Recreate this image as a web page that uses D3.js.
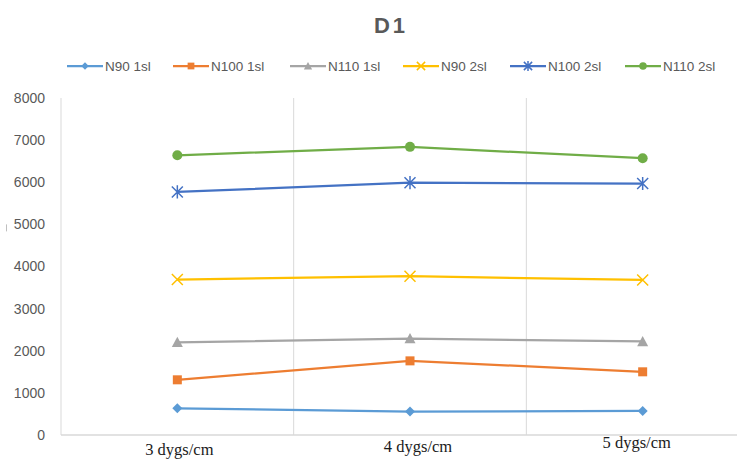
<!DOCTYPE html>
<html>
<head>
<meta charset="utf-8">
<script src="https://cdn.jsdelivr.net/npm/d3@7"></script>
<style>
  html, body { margin: 0; padding: 0; background: #fff; }
  svg { display: block; }
</style>
</head>
<body>
<svg id="chart" width="737" height="459"></svg>
<script>
// Categories along the x axis
const categories = ["3 dygs/cm", "4 dygs/cm", "5 dygs/cm"];

// Series values, one per category
const n90_1sl  = [635, 555, 570];
const n100_1sl = [1310, 1760, 1500];
const n110_1sl = [2200, 2290, 2220];
const n90_2sl  = [3690, 3770, 3680];
const n100_2sl = [5770, 5990, 5970];
const n110_2sl = [6640, 6840, 6570];

const seriesNames = ["N90 1sl", "N100 1sl", "N110 1sl", "N90 2sl", "N100 2sl", "N110 2sl"];
const seriesValues = [n90_1sl, n100_1sl, n110_1sl, n90_2sl, n100_2sl, n110_2sl];
const seriesColors = ["#5b9bd5", "#ed7d31", "#a5a5a5", "#ffc000", "#4472c4", "#70ad47"];
const seriesMarkers = ["diamond", "square", "triangle", "x", "asterisk", "circle"];

// Y axis ticks
const yTicks = [0, 1000, 2000, 3000, 4000, 5000, 6000, 7000, 8000];

const svg = d3.select("#chart");
const W = 737, H = 459;
const plot = { left: 61, right: 759, top: 98, bottom: 435 };

const x = d3.scalePoint().domain(categories).range([plot.left, plot.right]).padding(0.5);
const xBand = d3.scaleBand().domain(categories).range([plot.left, plot.right]);
const y = d3.scaleLinear().domain([0, 8000]).range([plot.bottom, plot.top]);

const gridColor = "#d9d9d9";
const textColor = "#595959";

// Title
svg.append("text")
  .attr("x", 391).attr("y", 33)
  .attr("text-anchor", "middle")
  .attr("font-family", "Liberation Sans, Arial, sans-serif")
  .attr("font-size", 22).attr("font-weight", "bold")
  .attr("letter-spacing", 3)
  .attr("fill", textColor)
  .text("D1");

// Vertical category dividers
svg.append("g").selectAll("line")
  .data(categories.slice(1))
  .join("line")
  .attr("x1", d => xBand(d)).attr("x2", d => xBand(d))
  .attr("y1", plot.top).attr("y2", plot.bottom)
  .attr("stroke", gridColor).attr("stroke-width", 1);

// Left axis line
svg.append("line")
  .attr("x1", plot.left).attr("x2", plot.left)
  .attr("y1", plot.top).attr("y2", plot.bottom)
  .attr("stroke", gridColor).attr("stroke-width", 1);

// Bottom axis line
svg.append("line")
  .attr("x1", plot.left).attr("x2", W)
  .attr("y1", plot.bottom).attr("y2", plot.bottom)
  .attr("stroke", gridColor).attr("stroke-width", 1.5);

// Y axis labels
const yAxis = d3.axisLeft(y).tickValues(yTicks).tickSize(0).tickPadding(0).tickFormat(d3.format("d"));
const yg = svg.append("g").attr("transform", `translate(${plot.left - 16},0)`).call(yAxis);
yg.select(".domain").remove();
yg.selectAll("text")
  .attr("font-family", "Liberation Sans, Arial, sans-serif")
  .attr("font-size", 14)
  .attr("fill", textColor);

// Empty axis title stub
svg.append("line")
  .attr("x1", 6.5).attr("x2", 6.5)
  .attr("y1", y(5000) + 0).attr("y2", y(5000) + 7)
  .attr("stroke", "#bfbfbf").attr("stroke-width", 1);

// X axis labels
const xLabelOffsets = [20, 17, 13];
const xLabelShift = [2, 8, -6];
svg.append("g").selectAll("text")
  .data(categories)
  .join("text")
  .attr("x", (d, i) => x(d) + xLabelShift[i])
  .attr("y", (d, i) => plot.bottom + xLabelOffsets[i])
  .attr("text-anchor", "middle")
  .attr("font-family", "Liberation Serif, Times New Roman, serif")
  .attr("font-size", 16.5)
  .attr("fill", "#1a1a1a")
  .text(d => d);

// Marker drawing
function drawMarker(g, type, color, size) {
  const s = size;
  switch (type) {
    case "diamond":
      g.append("path").attr("d", `M0,${-s}L${s},0L0,${s}L${-s},0Z`).attr("fill", color);
      break;
    case "square":
      g.append("rect").attr("x", -s * 0.9).attr("y", -s * 0.9).attr("width", s * 1.8).attr("height", s * 1.8).attr("fill", color);
      break;
    case "triangle":
      g.append("path").attr("d", `M0,${-s}L${s},${s * 0.85}L${-s},${s * 0.85}Z`).attr("fill", color);
      break;
    case "x":
      g.append("path").attr("d", `M${-s},${-s}L${s},${s}M${-s},${s}L${s},${-s}`)
        .attr("stroke", color).attr("stroke-width", 1.5).attr("fill", "none");
      break;
    case "asterisk":
      g.append("path").attr("d", `M${-s},${-s}L${s},${s}M${-s},${s}L${s},${-s}M0,${-s * 1.2}L0,${s * 1.2}`)
        .attr("stroke", color).attr("stroke-width", 1.5).attr("fill", "none");
      break;
    case "circle":
      g.append("circle").attr("r", s).attr("fill", color);
      break;
  }
}

const markerSizes = { diamond: 5, square: 5, triangle: 5.5, x: 5.5, asterisk: 5.5, circle: 5 };

// Series lines and markers
const line = d3.line().x((d, i) => x(categories[i])).y(d => y(d));
seriesValues.forEach((vals, si) => {
  const g = svg.append("g");
  g.append("path")
    .datum(vals)
    .attr("d", line)
    .attr("fill", "none")
    .attr("stroke", seriesColors[si])
    .attr("stroke-width", 2.25)
    .attr("stroke-linejoin", "round");
  vals.forEach((v, i) => {
    const mg = g.append("g").attr("transform", `translate(${x(categories[i])},${y(v)})`);
    drawMarker(mg, seriesMarkers[si], seriesColors[si], markerSizes[seriesMarkers[si]]);
  });
});

// Legend
const legendX = [67, 173, 290, 403, 510, 625];
const legendY = 66;
seriesNames.forEach((name, si) => {
  const g = svg.append("g").attr("transform", `translate(${legendX[si]},${legendY})`);
  g.append("line").attr("x1", 0).attr("x2", 36).attr("y1", 0).attr("y2", 0)
    .attr("stroke", seriesColors[si]).attr("stroke-width", 2.25);
  const mg = g.append("g").attr("transform", "translate(18,0)");
  drawMarker(mg, seriesMarkers[si], seriesColors[si], markerSizes[seriesMarkers[si]] * 0.75);
  g.append("text")
    .attr("x", 38).attr("y", 5)
    .attr("font-family", "Liberation Sans, Arial, sans-serif")
    .attr("font-size", 13.5)
    .attr("fill", textColor)
    .text(name);
});
</script>
</body>
</html>
